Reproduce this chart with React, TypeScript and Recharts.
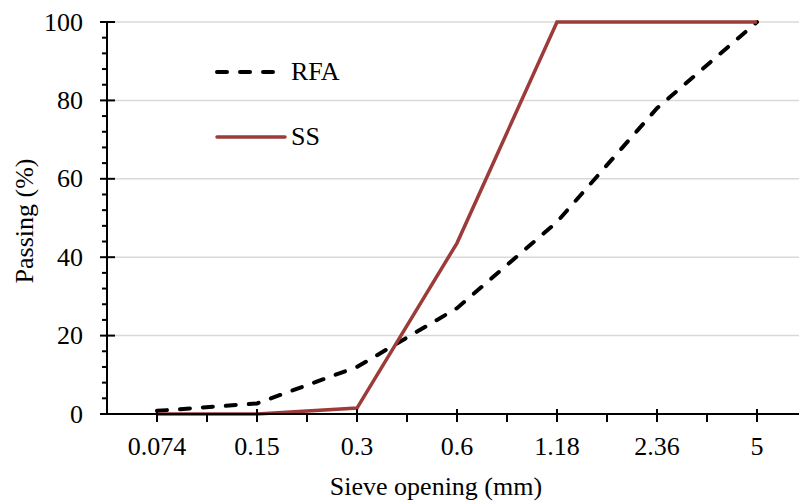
import React from 'react'
import { LineChart, Line, XAxis, YAxis, ReferenceLine } from 'recharts'

// Sieve analysis — passing percentage per sieve opening
const SIEVES = ['0.074', '0.15', '0.3', '0.6', '1.18', '2.36', '5']
const RFA = [0.8, 2.7, 12, 27, 49, 78, 100]
const SS = [0, 0, 1.5, 43.6, 100, 100, 100]

const Y_TICKS = [0, 4, 8, 12, 16, 20, 24, 28, 32, 36, 40, 44, 48, 52, 56, 60, 64, 68, 72, 76, 80, 84, 88, 92, 96, 100]
const Y_GRID = [20, 40, 60, 80, 100]
const X_TICKS = [0, 0.5, 1, 1.5, 2, 2.5, 3, 3.5, 4, 4.5, 5, 5.5, 6]

const data = SIEVES.map((s, i) => ({ idx: i, name: s, rfa: RFA[i], ss: SS[i] }))

const FONT = '"Liberation Serif", "Times New Roman", serif'
const FS = 26
const SS_COLOR = '#9c3b39'

function YTick(props: any) {
  const { x, y, payload } = props
  const v = payload.value
  const major = v % 20 === 0
  return (
    <g>
      {major ? (
        <line x1={x - 7} x2={x + 8} y1={y} y2={y} stroke="#000" strokeWidth={2} />
      ) : (
        <line x1={x - 5} x2={x} y1={y} y2={y} stroke="#000" strokeWidth={2} />
      )}
      {major ? (
        <text x={x - 24} y={y} textAnchor="end" dominantBaseline="central" fontFamily={FONT} fontSize={FS} fill="#000">
          {v}
        </text>
      ) : null}
    </g>
  )
}

function XTick(props: any) {
  const { x, y, payload } = props
  const v = payload.value
  const major = Number.isInteger(v)
  return (
    <g>
      {major ? (
        <line x1={x} x2={x} y1={y - 5} y2={y + 8} stroke="#000" strokeWidth={2} />
      ) : (
        <line x1={x} x2={x} y1={y} y2={y + 8} stroke="#000" strokeWidth={2} />
      )}
      {major ? (
        <text x={x} y={y + 32} textAnchor="middle" dominantBaseline="central" fontFamily={FONT} fontSize={FS} fill="#000">
          {SIEVES[v]}
        </text>
      ) : null}
    </g>
  )
}

function LegendBox() {
  const row = (label: string, dashed: boolean, color: string, top: number) => (
    <div style={{ position: 'absolute', left: 0, top, display: 'flex', alignItems: 'center', height: 30 }}>
      <svg width={76} height={30}>
        <line
          x1={2}
          x2={70}
          y1={15}
          y2={15}
          stroke={color}
          strokeWidth={dashed ? 4 : 3.5}
          strokeDasharray={dashed ? '10 13' : undefined}
          strokeLinecap="round"
        />
      </svg>
      <span style={{ fontFamily: FONT, fontSize: FS, color: '#000', lineHeight: '30px' }}>{label}</span>
    </div>
  )
  return (
    <div style={{ position: 'absolute', left: 215, top: 57, width: 160, height: 110 }}>
      {row('RFA', true, '#000', 0)}
      {row('SS', false, SS_COLOR, 65)}
    </div>
  )
}

export default function App() {
  return (
    <div style={{ position: 'absolute', left: 0, top: 0, width: 799, height: 501, background: '#fff' }}>
      <LineChart width={799} height={501} data={data} margin={{ top: 22, right: 0, bottom: 0, left: 0 }}>
        {Y_GRID.map((g) => (
          <ReferenceLine key={g} y={g} stroke="#d9d9d9" strokeWidth={1.5} />
        ))}
        <XAxis
          dataKey="idx"
          type="number"
          domain={[-0.5, 6.42]}
          ticks={X_TICKS}
          interval={0}
          allowDataOverflow
          height={87}
          tickSize={0}
          tickMargin={0}
          tickLine={false}
          axisLine={{ stroke: '#000', strokeWidth: 2 }}
          tick={<XTick />}
          label={{
            value: 'Sieve opening (mm)',
            content: () => (
              <text x={436} y={495} textAnchor="middle" fontFamily={FONT} fontSize={FS} fill="#000">
                Sieve opening (mm)
              </text>
            ),
          }}
        />
        <YAxis
          type="number"
          domain={[0, 100]}
          ticks={Y_TICKS}
          interval={0}
          width={107}
          tickSize={0}
          tickMargin={0}
          tickLine={false}
          axisLine={{ stroke: '#000', strokeWidth: 2 }}
          tick={<YTick />}
          label={{
            value: 'Passing (%)',
            content: () => (
              <text
                x={24}
                y={221}
                transform="rotate(-90 24 221)"
                textAnchor="middle"
                dominantBaseline="central"
                fontFamily={FONT}
                fontSize={FS}
                fill="#000"
              >
                Passing (%)
              </text>
            ),
          }}
        />
        <Line
          dataKey="rfa"
          type="linear"
          stroke="#000"
          strokeWidth={4}
          strokeDasharray="10 13"
          strokeLinecap="round"
          dot={false}
          isAnimationActive={false}
        />
        <Line
          dataKey="ss"
          type="linear"
          stroke={SS_COLOR}
          strokeWidth={3.5}
          dot={false}
          isAnimationActive={false}
        />
      </LineChart>
      <LegendBox />
    </div>
  )
}
